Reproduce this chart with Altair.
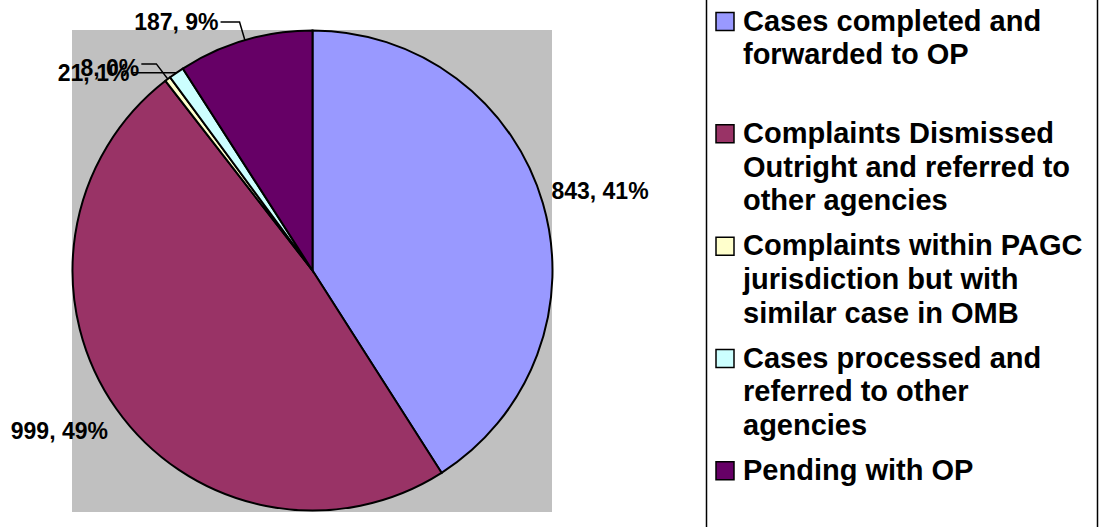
import math
import altair as alt
import pandas as pd

# ---------------- data ----------------
categories = [
    "Cases completed and forwarded to OP",
    "Complaints Dismissed Outright and referred to other agencies",
    "Complaints within PAGC jurisdiction but with similar case in OMB",
    "Cases processed and referred to other agencies",
    "Pending with OP",
]
values = [843, 999, 8, 21, 187]
legend_lines = [
    "Cases completed and\nforwarded to OP",
    "Complaints Dismissed\nOutright and referred to\nother agencies",
    "Complaints within PAGC\njurisdiction but with\nsimilar case in OMB",
    "Cases processed and\nreferred to other\nagencies",
    "Pending with OP",
]
colors = ["#9999FF", "#993366", "#FFFFCC", "#CCFFFF", "#660066"]

# ---------------- layout ----------------
W, H = 1099, 527
CX, CY, R = 312.5, 270.5, 240
FONT = "Liberation Sans"

total = sum(values)
labels = [f"{v}, {round(100 * v / total)}%" for v in values]
mids = []
cum = 0
for v in values:
    mids.append((cum + v / 2) / total * 2 * math.pi)
    cum += v

def polar(angle, r):
    return CX + r * math.sin(angle), CY - r * math.cos(angle)

# big labels: (angle nudge in degrees, radius)
big_layout = {0: (1.0, 298), 1: (2.7, 300)}
# small labels with leader lines: (bend radius, horizontal leader length, text dy)
small_layout = {2: (259, 15, 5), 3: (240, 45, 1), 4: (259, 19, 1)}

big_rows = []
for i, (nudge, r) in big_layout.items():
    x, y = polar(mids[i] + math.radians(nudge), r)
    big_rows.append({"lab": labels[i], "x": x, "y": y})

small_rows, leader_rows = [], []
for i, (br, hl, tdy) in small_layout.items():
    ex, ey = polar(mids[i], R)
    bx, by = polar(mids[i], br)
    lx = bx - hl
    leader_rows += [
        {"lab": labels[i], "k": 0, "x": lx, "y": by},
        {"lab": labels[i], "k": 1, "x": bx, "y": by},
        {"lab": labels[i], "k": 2, "x": ex, "y": ey},
    ]
    small_rows.append({"lab": labels[i], "x": lx - 2, "y": by + tdy})

df = pd.DataFrame({"cat": categories, "value": values, "idx": list(range(len(values))),
                   "legend": legend_lines})
one = pd.DataFrame({"a": [0]})

color = alt.Color("cat:N", scale=alt.Scale(domain=categories, range=colors), legend=None)

bg = alt.Chart(one).mark_rect(fill="#C0C0C0").encode(
    x=alt.value(72), x2=alt.value(552), y=alt.value(30), y2=alt.value(512))

pie = alt.Chart(df).mark_arc(radius=R, stroke="black", strokeWidth=2).encode(
    theta=alt.Theta("value:Q", stack=True),
    order=alt.Order("idx:Q"),
    color=color,
    x=alt.value(CX), y=alt.value(CY),
)

leaders = alt.Chart(pd.DataFrame(leader_rows)).mark_line(color="black", strokeWidth=1.5).encode(
    x=alt.X("x:Q", scale=None), y=alt.Y("y:Q", scale=None),
    detail="lab:N", order="k:Q")

big_text = alt.Chart(pd.DataFrame(big_rows)).mark_text(
    font=FONT, fontWeight="bold", fontSize=23, align="center", baseline="middle", color="black"
).encode(x=alt.X("x:Q", scale=None), y=alt.Y("y:Q", scale=None), text="lab:N")

small_text = alt.Chart(pd.DataFrame(small_rows)).mark_text(
    font=FONT, fontWeight="bold", fontSize=23, align="right", baseline="middle", color="black"
).encode(x=alt.X("x:Q", scale=None), y=alt.Y("y:Q", scale=None), text="lab:N")

legend_box = alt.Chart(one).mark_rect(fill=None, stroke="black", strokeWidth=1.5).encode(
    x=alt.value(706.5), x2=alt.value(1097.5), y=alt.value(-10), y2=alt.value(540))

legend_sq = alt.Chart(df).mark_square(size=324, stroke="black", strokeWidth=1.5, opacity=1, filled=True).encode(
    x=alt.value(725),
    y=alt.Y("idx:Q", scale=alt.Scale(domain=[0, 4], range=[21.5, 470.8]), axis=None),
    color=color,
)

legend_txt = alt.Chart(df).mark_text(
    font=FONT, fontWeight="bold", fontSize=29, align="left", baseline="alphabetic",
    lineBreak="\n", lineHeight=33.7, color="black"
).encode(
    x=alt.value(743),
    y=alt.Y("idx:Q", scale=alt.Scale(domain=[0, 4], range=[30.7, 480]), axis=None),
    text="legend:N",
)

chart = alt.layer(bg, pie, leaders, big_text, small_text, legend_box, legend_sq, legend_txt).resolve_scale(
    x="independent", y="independent"
).properties(
    width=W, height=H, padding=0, autosize=alt.AutoSizeParams(type="none"), background="white"
).configure_view(stroke=None)

chart.save("out.html", embed_options={"renderer": "svg", "actions": False})
